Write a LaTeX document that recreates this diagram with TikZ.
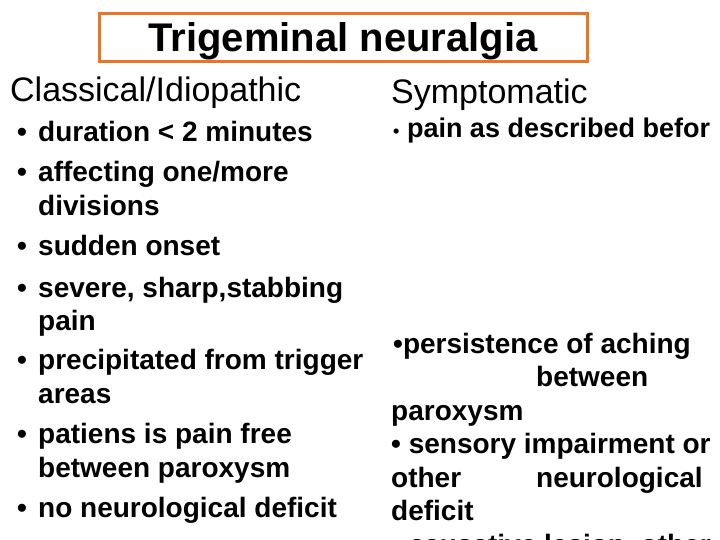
\documentclass[tikz,border=0pt]{standalone}
\usepackage{fontspec}
\setmainfont{Liberation Sans}
\begin{document}
\begin{tikzpicture}[x=1pt,y=1pt,
  t/.style={anchor=base west,inner sep=0pt,font=\fontsize{28}{28}\selectfont\bfseries},
  h/.style={anchor=base west,inner sep=0pt,font=\fontsize{34}{34}\selectfont}]
\useasboundingbox (0,0) rectangle (720,540);
\clip (0,0) rectangle (720,540);
\draw[draw={rgb,255:red,232;green,119;blue,34},line width=3pt] (99,478) rectangle (587,526);
\node[anchor=base,inner sep=0pt,font=\fontsize{40}{40}\selectfont\bfseries] (title) at (343,488) {Trigeminal neuralgia};
\node[h] (l0) at (10,438) {Classical/Idiopathic};
\node[h] (r0) at (391,436) {Symptomatic};
\foreach \b/\y/\s in {1/398/{duration < 2 minutes},1/358/{affecting one/more},0/324/{divisions},1/284/{sudden onset},1/242/{severe, sharp,stabbing},0/209/{pain},1/170/{precipitated from trigger},0/136/{areas},1/96/{patiens is pain free},0/62/{between paroxysm},1/22/{no neurological deficit}}{
  \node[t] at (38,\y) {\s};
  \ifnum\b=1 \node[t] at (17,\y) {•};\fi
}
\node[t,font=\fontsize{27}{27}\selectfont\bfseries] (r1) at (393,402) {{\fontsize{18}{18}\selectfont•} pain as described befor};
\node[t] (r2) at (393,186) {•persistence of aching};
\node[t] (r3) at (536,153) {between};
\node[t] (r4) at (391,119) {paroxysm};
\node[t] (r5) at (391,86) {• sensory impairment or};
\node[t] (r6) at (391,52) {other};
\node[t] (r7) at (536,52) {neurological};
\node[t] (r8) at (391,19) {deficit};
\node[t] (r9) at (391,-15) {• causative lesion, other};
\end{tikzpicture}
\end{document}
